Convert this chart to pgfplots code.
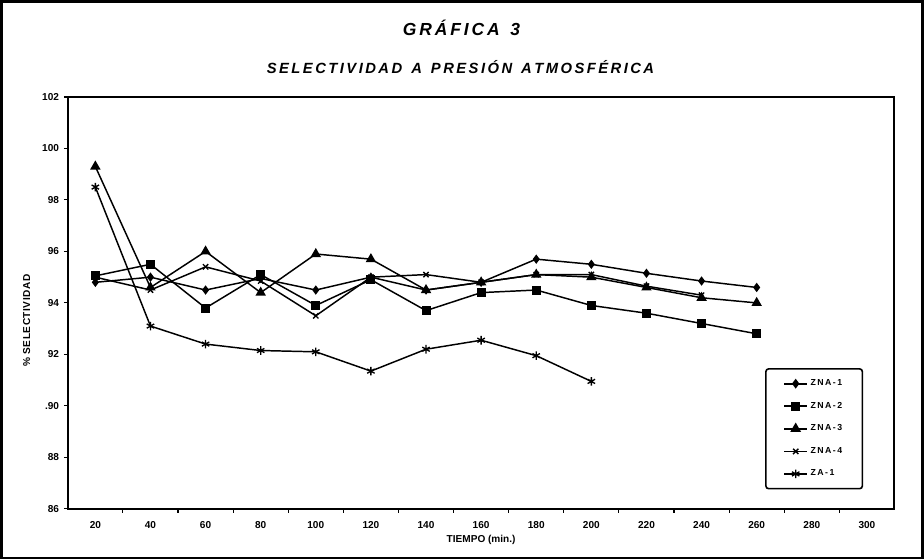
\documentclass[border=0pt]{standalone}
\usepackage{fontspec}
\setmainfont{Liberation Sans}
\usepackage{pgfplots}
\pgfplotsset{compat=1.18}
\begin{document}
\begin{tikzpicture}
\draw[line width=2pt] (-49.5pt,-36.75pt) rectangle (636.75pt,378pt);
\node[font=\fontsize{13}{15}\selectfont\bfseries\itshape] at (293.25pt,358.5pt) {G\,R\,Á\,F\,I\,C\,A\,\, 3};
\node[font=\fontsize{11}{13}\selectfont\bfseries\itshape] at (292.5pt,329.25pt) {S\,E\,L\,E\,C\,T\,I\,V\,I\,D\,A\,D\,\, A\,\, P\,R\,E\,S\,I\,Ó\,N\,\, A\,T\,M\,O\,S\,F\,É\,R\,I\,C\,A};
\begin{axis}[
  scale only axis,
  width=615.75pt, height=306.75pt,
  xmin=10, xmax=310, ymin=86, ymax=102,
  axis line style={line width=1.5pt},
  xtick={20,40,...,300},
  minor xtick={30,50,...,290},
  ytick={86,88,...,102},
  yticklabels={86,88,.90,92,94,96,98,100,102},
  major x tick style={draw=none},
  minor x tick style={line width=0.8pt, black},
  major y tick style={line width=0.8pt, black},
  tick align=outside,
  major tick length=3pt, minor tick length=3pt,
  xtick pos=bottom, ytick pos=left,
  tick label style={font=\fontsize{7.5}{8}\selectfont\bfseries},
  /pgf/number format/assume math mode=true,
  xticklabel style={yshift=-3pt},
  xlabel={TIEMPO (min.)},
  ylabel={\% S\kern0.4pt E\kern0.4pt L\kern0.4pt E\kern0.4pt C\kern0.4pt T\kern0.4pt I\kern0.4pt V\kern0.4pt I\kern0.4pt D\kern0.4pt A\kern0.4pt D},
  label style={font=\fontsize{7.5}{9}\selectfont\bfseries},
  xlabel style={yshift=2pt},
  ylabel style={yshift=2pt, xshift=-13pt},
  legend style={at={(0.8435,0.047)}, anchor=south west, rounded corners=2pt,
    line width=1.2pt, font=\fontsize{6.5}{7.5}\selectfont\bfseries,
    row sep=6.8pt, inner xsep=13pt, inner ysep=6pt},
  legend cell align=left,
  legend image post style={line width=1.3pt},
  every axis plot/.append style={black, line width=1.1pt},
]
\addplot[mark=diamond*, mark size=2.6pt] coordinates {
(20,94.8)(40,95.0)(60,94.5)(80,94.95)(100,94.5)(120,95.0)(140,94.5)(160,94.8)(180,95.7)(200,95.5)(220,95.15)(240,94.85)(260,94.6)};
\addlegendentry{Z\,N\,A\,-\,1}
\addplot[mark=square*, mark size=2.8pt] coordinates {
(20,95.05)(40,95.5)(60,93.8)(80,95.1)(100,93.9)(120,94.9)(140,93.7)(160,94.4)(180,94.5)(200,93.9)(220,93.6)(240,93.2)(260,92.8)};
\addlegendentry{Z\,N\,A\,-\,2}
\addplot[mark=triangle*, mark size=3.4pt] coordinates {
(20,99.3)(40,94.6)(60,96.0)(80,94.4)(100,95.9)(120,95.7)(140,94.5)(160,94.8)(180,95.1)(200,95.0)(220,94.6)(240,94.2)(260,94.0)};
\addlegendentry{Z\,N\,A\,-\,3}
\addplot[mark=x, mark size=2.8pt, mark options={line width=1pt}] coordinates {
(20,95.0)(40,94.5)(60,95.4)(80,94.85)(100,93.5)(120,95.0)(140,95.1)(160,94.8)(180,95.1)(200,95.1)(220,94.65)(240,94.3)};
\addlegendentry{Z\,N\,A\,-\,4}
\addplot[mark=asterisk, mark size=3.2pt, mark options={line width=1pt}] coordinates {
(20,98.5)(40,93.1)(60,92.4)(80,92.15)(100,92.1)(120,91.35)(140,92.2)(160,92.55)(180,91.95)(200,90.95)};
\addlegendentry{Z\,A\,-\,1}
\end{axis}
\end{tikzpicture}
\end{document}
